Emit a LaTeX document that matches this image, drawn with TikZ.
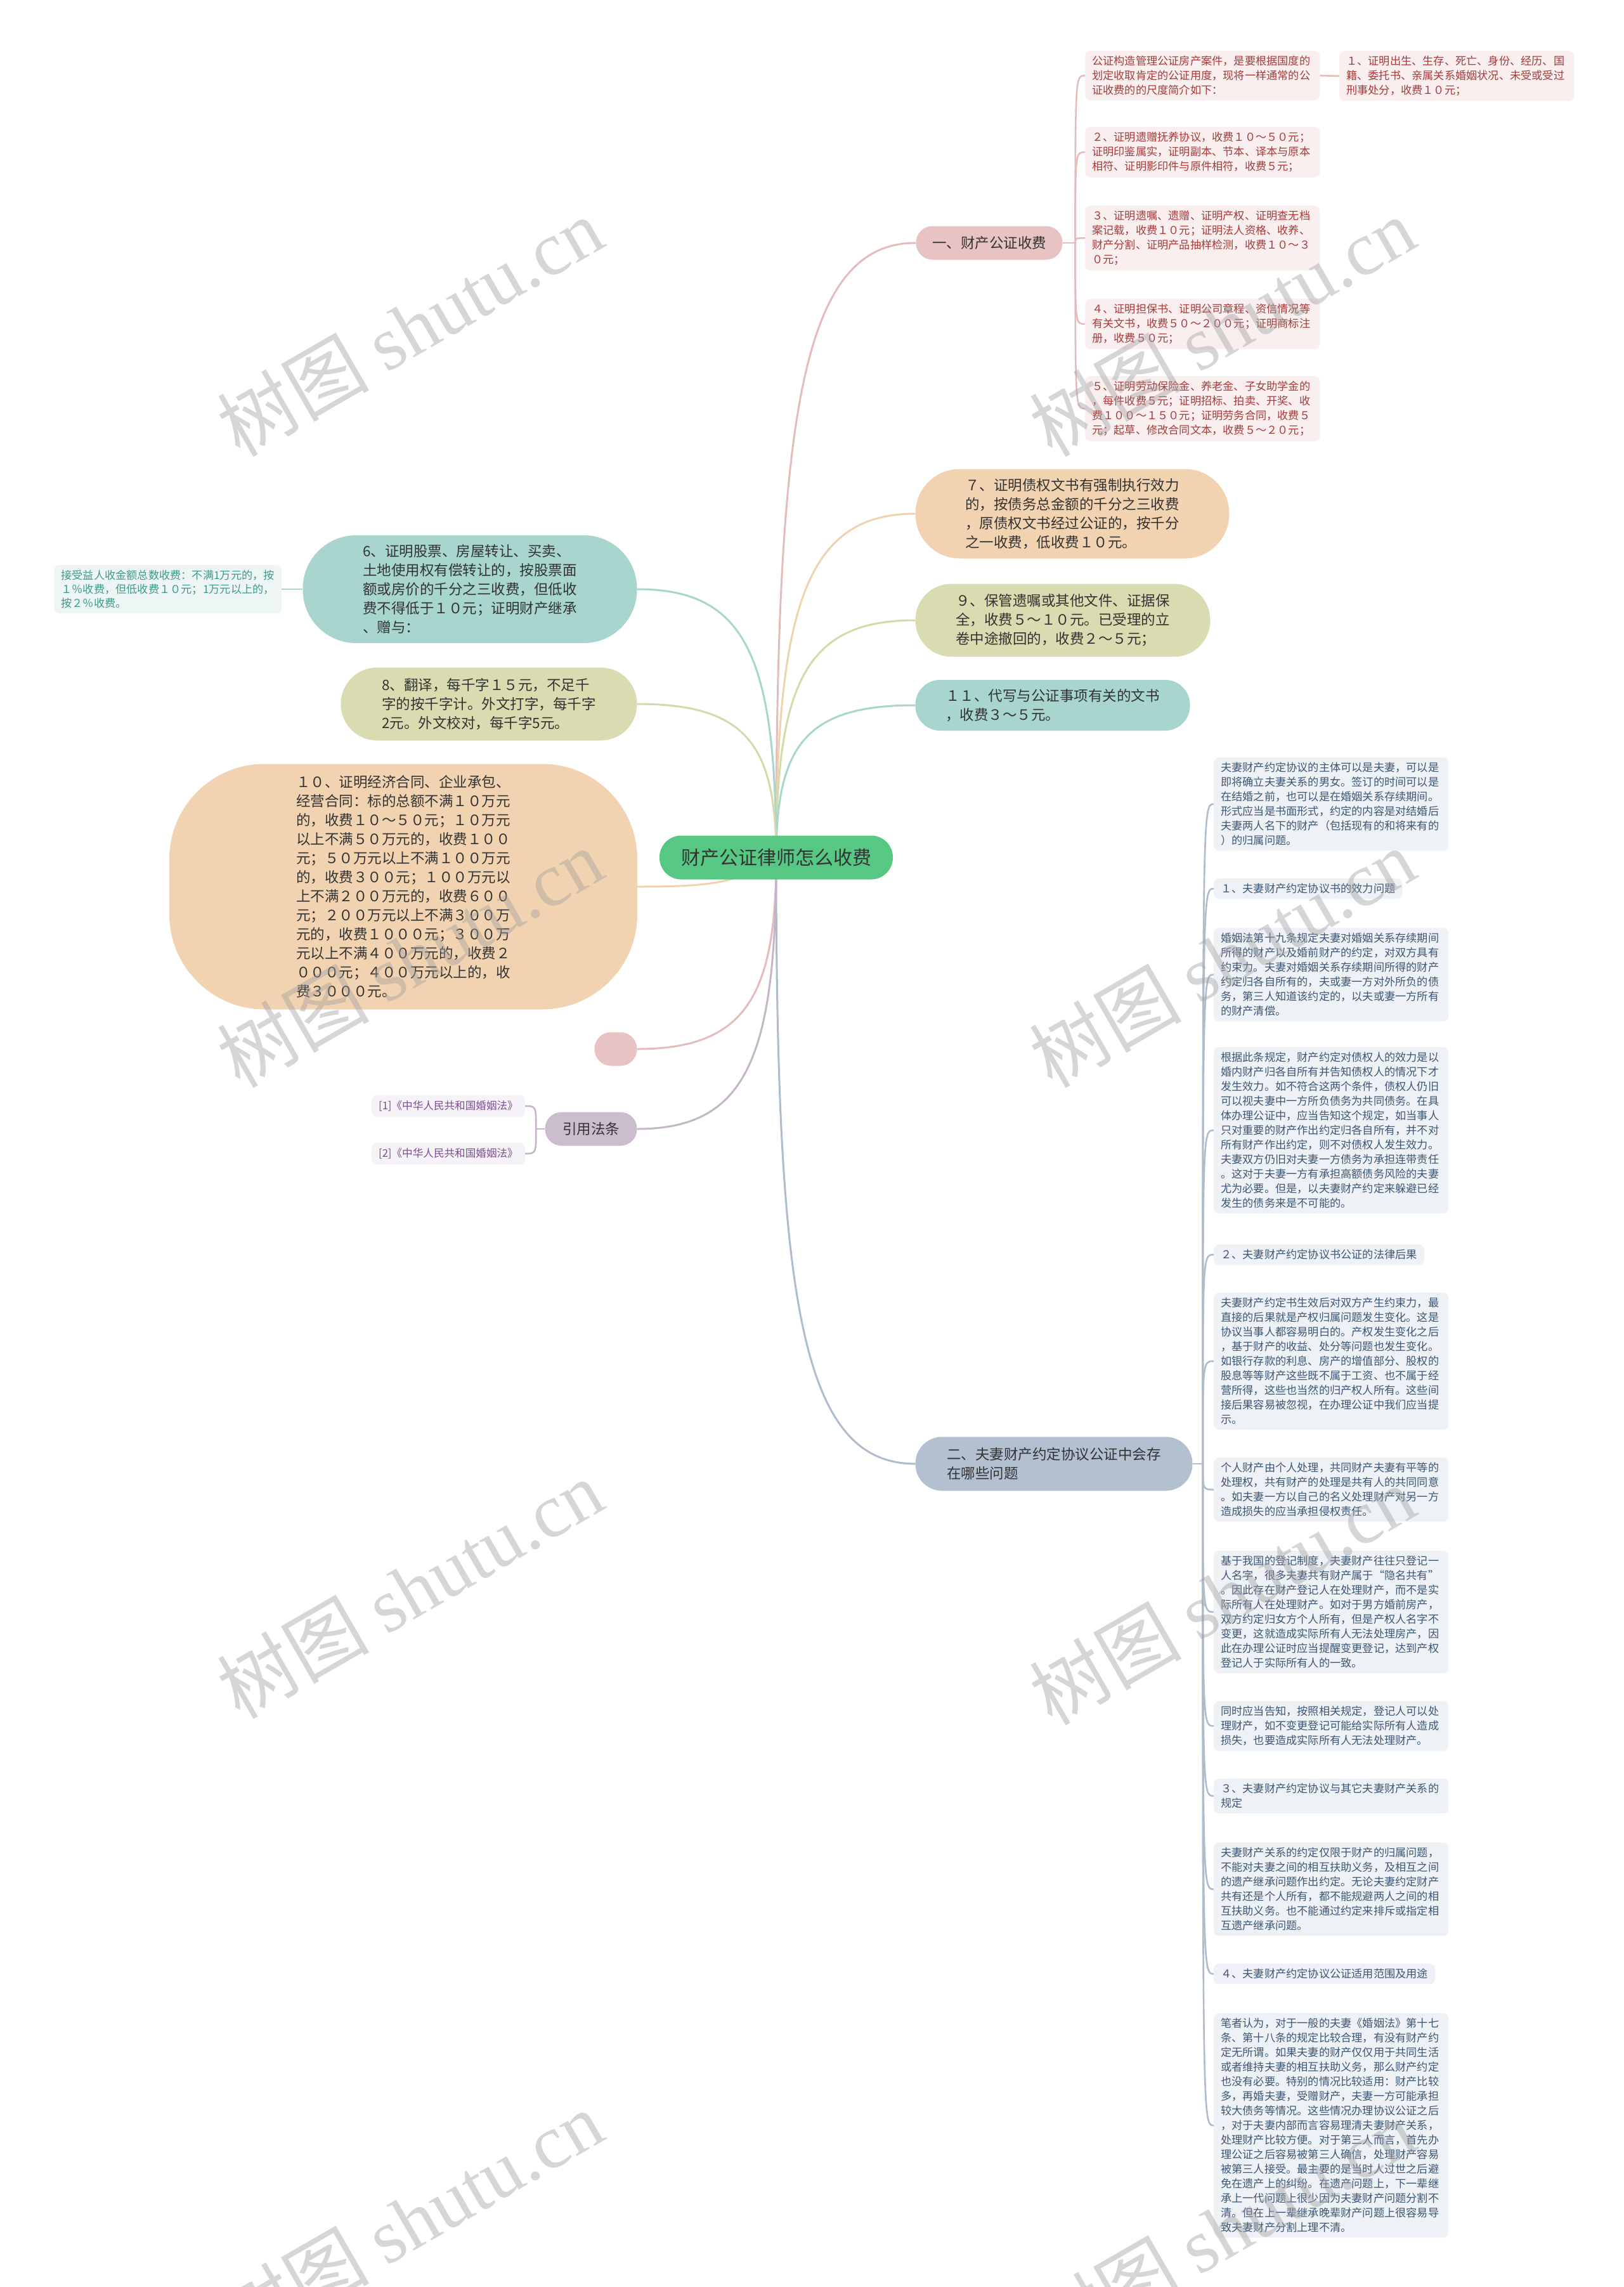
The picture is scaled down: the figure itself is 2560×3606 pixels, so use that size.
\documentclass[tikz,border=0pt]{standalone}
\usepackage{fontspec}
\setmainfont{Noto Sans CJK SC}
\newfontfamily\wmlatin{Liberation Serif}
\usetikzlibrary{backgrounds}
\definecolor{maintext}{HTML}{333333}
\definecolor{greenN}{HTML}{56C884}
\definecolor{pinkN}{HTML}{E8C3C3}
\definecolor{peachN}{HTML}{F2D3B1}
\definecolor{oliveN}{HTML}{D9DCB0}
\definecolor{tealN}{HTML}{A8D5CD}
\definecolor{blueN}{HTML}{B2C0D0}
\definecolor{lavN}{HTML}{CBBDCD}
\definecolor{pinkL}{HTML}{E3BCBC}
\definecolor{peachL}{HTML}{F0D3AE}
\definecolor{oliveL}{HTML}{D6D9A9}
\definecolor{tealL}{HTML}{A8D5CD}
\definecolor{blueL}{HTML}{AEBCCC}
\definecolor{lavL}{HTML}{C4B6C7}
\definecolor{pinkBG}{HTML}{F9EFEF}
\definecolor{pinkTX}{HTML}{A83A3A}
\definecolor{blueBG}{HTML}{EEF2F6}
\definecolor{blueTX}{HTML}{3E5674}
\definecolor{tealBG}{HTML}{EDF6F4}
\definecolor{tealTX}{HTML}{3D9B86}
\definecolor{refBG}{HTML}{F5F3F7}
\definecolor{refTX}{HTML}{7B4D8D}
\tikzset{
  mnode/.style={fill=#1, text=maintext, align=left, inner sep=0pt,
    font=\fontsize{22.5pt}{30pt}\selectfont},
  leafbox/.style 2 args={fill=#1, text=#2, align=left, inner xsep=11pt, inner ysep=8pt,
    rounded corners=8pt, font=\fontsize{17.2pt}{23pt}\selectfont},
  wideleaf/.style 2 args={leafbox={#1}{#2}, text width=348pt},
  brline/.style={draw=#1, line width=3pt},
  lfline/.style={draw=#1, line width=2.6pt},
  wmark/.style={text=gray!75, opacity=0.42, rotate=30, inner sep=0pt,
    font=\fontsize{120pt}{120pt}\selectfont}
}
\begin{document}
\begin{tikzpicture}[x=1pt,y=-1pt]
\useasboundingbox (0,0) rectangle (2560,3606);

% ---------------- centre ----------------
\node[mnode=greenN, rounded corners=34pt, minimum width=368pt, minimum height=69pt,
  font=\fontsize{30pt}{36pt}\selectfont, align=center] (c) at (1224,1352) {财产公证律师怎么收费};

% ---------------- right main branches ----------------
\node[mnode=pinkN, rounded corners=26pt, minimum width=231pt, minimum height=53pt] (b1) at (1560,383) {一、财产公证收费};
\node[mnode=peachN, rounded corners=70pt, minimum width=495pt, minimum height=141pt] (b7) at (1691,810)
  {７、证明债权文书有强制执行效力\\的，按债务总金额的千分之三收费\\，原债权文书经过公证的，按千分\\之一收费，低收费１０元。};
\node[mnode=oliveN, rounded corners=57pt, minimum width=465pt, minimum height=115pt] (b9) at (1676,978)
  {９、保管遗嘱或其他文件、证据保\\全，收费５～１０元。已受理的立\\卷中途撤回的，收费２～５元；};
\node[mnode=tealN, rounded corners=39pt, minimum width=433pt, minimum height=80pt] (b11) at (1660,1112)
  {１１、代写与公证事项有关的文书\\，收费３～５元。};
\node[mnode=blueN, rounded corners=42pt, minimum width=437pt, minimum height=85pt] (b2) at (1662,2308)
  {二、夫妻财产约定协议公证中会存\\在哪些问题};

% ---------------- left main branches ----------------
\node[mnode=tealN, rounded corners=84pt, minimum width=527pt, minimum height=170pt] (b6) at (741,929)
  {6、证明股票、房屋转让、买卖、\\土地使用权有偿转让的，按股票面\\额或房价的千分之三收费，但低收\\费不得低于１０元；证明财产继承\\、赠与：};
\node[mnode=oliveN, rounded corners=57pt, minimum width=467pt, minimum height=115pt] (b8) at (771,1110)
  {8、翻译，每千字１５元，不足千\\字的按千字计。外文打字，每千字\\2元。外文校对，每千字5元。};
\node[mnode=peachN, rounded corners=150pt, minimum width=738pt, minimum height=387pt] (b10) at (636,1398)
  {１０、证明经济合同、企业承包、\\经营合同：标的总额不满１０万元\\的，收费１０～５０元；１０万元\\以上不满５０万元的，收费１００\\元；５０万元以上不满１００万元\\的，收费３００元；１００万元以\\上不满２００万元的，收费６００\\元；２００万元以上不满３００万\\元的，收费１０００元；３００万\\元以上不满４００万元的，收费２\\０００元；４００万元以上的，收\\费３０００元。};
\node[mnode=pinkN, rounded corners=26pt, minimum width=67pt, minimum height=53pt] (be) at (971,1654) {};
\node[mnode=lavN, rounded corners=26pt, minimum width=145pt, minimum height=53pt] (bref) at (932,1780) {引用法条};

% ---------------- left leaves ----------------
\node[leafbox={tealBG}{tealTX}, anchor=east, font=\fontsize{17.2pt}{22pt}\selectfont] (l6) at (444,929)
  {接受益人收金额总数收费：不满1万元的，按\\１％收费，但低收费１０元；1万元以上的，\\按２％收费。};
\node[leafbox={refBG}{refTX}, anchor=east, inner ysep=9pt, font=\fontsize{16.6pt}{21pt}\selectfont] (ref1) at (828,1744) {[1]《中华人民共和国婚姻法》};
\node[leafbox={refBG}{refTX}, anchor=east, inner ysep=9pt, font=\fontsize{16.6pt}{21pt}\selectfont] (ref2) at (828,1819) {[2]《中华人民共和国婚姻法》};

% ---------------- pink leaves ----------------
\node[wideleaf={pinkBG}{pinkTX}, anchor=north west] (p0) at (1711,80)
  {公证构造管理公证房产案件，是要根据国度的\\划定收取肯定的公证用度，现将一样通常的公\\证收费的的尺度简介如下：};
\node[wideleaf={pinkBG}{pinkTX}, anchor=north west] (p1) at (2112,80)
  {１、证明出生、生存、死亡、身份、经历、国\\籍、委托书、亲属关系婚姻状况、未受或受过\\刑事处分，收费１０元；};
\node[wideleaf={pinkBG}{pinkTX}, anchor=north west] (p2) at (1711,200)
  {２、证明遗赠抚养协议，收费１０～５０元；\\证明印鉴属实，证明副本、节本、译本与原本\\相符、证明影印件与原件相符，收费５元；};
\node[wideleaf={pinkBG}{pinkTX}, anchor=north west] (p3) at (1711,324)
  {３、证明遗嘱、遗赠、证明产权、证明查无档\\案记载，收费１０元；证明法人资格、收养、\\财产分割、证明产品抽样检测，收费１０～３\\０元；};
\node[wideleaf={pinkBG}{pinkTX}, anchor=north west] (p4) at (1711,471)
  {４、证明担保书、证明公司章程、资信情况等\\有关文书，收费５０～２００元；证明商标注\\册，收费５０元；};
\node[wideleaf={pinkBG}{pinkTX}, anchor=north west] (p5) at (1711,593)
  {５、证明劳动保险金、养老金、子女助学金的\\，每件收费５元；证明招标、拍卖、开奖、收\\费１００～１５０元；证明劳务合同，收费５\\元；起草、修改合同文本，收费５～２０元；};

% ---------------- blue leaves ----------------
\node[wideleaf={blueBG}{blueTX}, anchor=north west] (r1) at (1914,1194)
  {夫妻财产约定协议的主体可以是夫妻，可以是\\即将确立夫妻关系的男女。签订的时间可以是\\在结婚之前，也可以是在婚姻关系存续期间。\\形式应当是书面形式，约定的内容是对结婚后\\夫妻两人名下的财产（包括现有的和将来有的\\）的归属问题。};
\node[leafbox={blueBG}{blueTX}, anchor=north west] (r2) at (1914,1385)
  {１、夫妻财产约定协议书的效力问题};
\node[wideleaf={blueBG}{blueTX}, anchor=north west] (r3) at (1914,1463)
  {婚姻法第十九条规定夫妻对婚姻关系存续期间\\所得的财产以及婚前财产的约定，对双方具有\\约束力。夫妻对婚姻关系存续期间所得的财产\\约定归各自所有的，夫或妻一方对外所负的债\\务，第三人知道该约定的，以夫或妻一方所有\\的财产清偿。};
\node[wideleaf={blueBG}{blueTX}, anchor=north west] (r4) at (1914,1651)
  {根据此条规定，财产约定对债权人的效力是以\\婚内财产归各自所有并告知债权人的情况下才\\发生效力。如不符合这两个条件，债权人仍旧\\可以视夫妻中一方所负债务为共同债务。在具\\体办理公证中，应当告知这个规定，如当事人\\只对重要的财产作出约定归各自所有，并不对\\所有财产作出约定，则不对债权人发生效力。\\夫妻双方仍旧对夫妻一方债务为承担连带责任\\。这对于夫妻一方有承担高额债务风险的夫妻\\尤为必要。但是，以夫妻财产约定来躲避已经\\发生的债务来是不可能的。};
\node[leafbox={blueBG}{blueTX}, anchor=north west] (r5) at (1914,1962)
  {２、夫妻财产约定协议书公证的法律后果};
\node[wideleaf={blueBG}{blueTX}, anchor=north west] (r6) at (1914,2038)
  {夫妻财产约定书生效后对双方产生约束力，最\\直接的后果就是产权归属问题发生变化。这是\\协议当事人都容易明白的。产权发生变化之后\\，基于财产的收益、处分等问题也发生变化。\\如银行存款的利息、房产的增值部分、股权的\\股息等等财产这些既不属于工资、也不属于经\\营所得，这些也当然的归产权人所有。这些间\\接后果容易被忽视，在办理公证中我们应当提\\示。};
\node[wideleaf={blueBG}{blueTX}, anchor=north west] (r7) at (1914,2298)
  {个人财产由个人处理，共同财产夫妻有平等的\\处理权，共有财产的处理是共有人的共同同意\\。如夫妻一方以自己的名义处理财产对另一方\\造成损失的应当承担侵权责任。};
\node[wideleaf={blueBG}{blueTX}, anchor=north west] (r8) at (1914,2445)
  {基于我国的登记制度，夫妻财产往往只登记一\\人名字，很多夫妻共有财产属于“隐名共有”\\。因此存在财产登记人在处理财产，而不是实\\际所有人在处理财产。如对于男方婚前房产，\\双方约定归女方个人所有，但是产权人名字不\\变更，这就造成实际所有人无法处理房产，因\\此在办理公证时应当提醒变更登记，达到产权\\登记人于实际所有人的一致。};
\node[wideleaf={blueBG}{blueTX}, anchor=north west] (r9) at (1914,2682)
  {同时应当告知，按照相关规定，登记人可以处\\理财产，如不变更登记可能给实际所有人造成\\损失，也要造成实际所有人无法处理财产。};
\node[wideleaf={blueBG}{blueTX}, anchor=north west] (r10) at (1914,2804)
  {３、夫妻财产约定协议与其它夫妻财产关系的\\规定};
\node[wideleaf={blueBG}{blueTX}, anchor=north west] (r11) at (1914,2905)
  {夫妻财产关系的约定仅限于财产的归属问题，\\不能对夫妻之间的相互扶助义务，及相互之间\\的遗产继承问题作出约定。无论夫妻约定财产\\共有还是个人所有，都不能规避两人之间的相\\互扶助义务。也不能通过约定来排斥或指定相\\互遗产继承问题。};
\node[leafbox={blueBG}{blueTX}, anchor=north west] (r12) at (1914,3096)
  {４、夫妻财产约定协议公证适用范围及用途};
\node[wideleaf={blueBG}{blueTX}, anchor=north west] (r13) at (1914,3174)
  {笔者认为，对于一般的夫妻《婚姻法》第十七\\条、第十八条的规定比较合理，有没有财产约\\定无所谓。如果夫妻的财产仅仅用于共同生活\\或者维持夫妻的相互扶助义务，那么财产约定\\也没有必要。特别的情况比较适用：财产比较\\多，再婚夫妻，受赠财产，夫妻一方可能承担\\较大债务等情况。这些情况办理协议公证之后\\，对于夫妻内部而言容易理清夫妻财产关系，\\处理财产比较方便。对于第三人而言，首先办\\理公证之后容易被第三人确信，处理财产容易\\被第三人接受。最主要的是当时人过世之后避\\免在遗产上的纠纷。在遗产问题上，下一辈继\\承上一代问题上很少因为夫妻财产问题分割不\\清。但在上一辈继承晚辈财产问题上很容易导\\致夫妻财产分割上理不清。};

% ---------------- connectors ----------------
\begin{scope}[on background layer]
\fill[white] (0,0) rectangle (2560,3606);
\draw[brline=pinkL] (c.center) .. controls +(0,-700) and +(-180,0) .. (b1.west);
\draw[brline=peachL] (c.center) .. controls +(0,-400) and +(-170,0) .. (b7.west);
\draw[brline=oliveL] (c.center) .. controls +(0,-280) and +(-170,0) .. (b9.west);
\draw[brline=tealL] (c.center) .. controls +(0,-180) and +(-170,0) .. (b11.west);
\draw[brline=blueL] (c.center) .. controls +(0,700) and +(-180,0) .. (b2.west);
\draw[brline=tealL] (c.center) .. controls +(0,-320) and +(170,0) .. (b6.east);
\draw[brline=oliveL] (c.center) .. controls +(0,-180) and +(170,0) .. (b8.east);
\draw[brline=peachL] (c.center) .. controls +(-60,40) and +(120,0) .. (b10.east);
\draw[brline=pinkL] (c.center) .. controls +(0,220) and +(170,0) .. (be.east);
\draw[brline=lavL] (c.center) .. controls +(0,320) and +(170,0) .. (bref.east);

\draw[lfline=pinkL] (b1.east) -- ++(20,0) coordinate (t1);
\foreach \n in {p0,p2,p3,p4,p5}
  \draw[lfline=pinkL] (t1) .. controls (t1 |- \n.west) .. (\n.west);
\draw[lfline=pinkL] (p0.east) -- (p1.west);

\draw[lfline=blueL] (b2.east) -- ++(16,0) coordinate (t2);
\foreach \n in {r1,r2,r3,r4,r5,r6,r7,r8,r9,r10,r11,r12,r13}
  \draw[lfline=blueL] (t2) .. controls (t2 |- \n.west) .. (\n.west);

\draw[lfline=tealL] (b6.west) -- (l6.east);

\draw[lfline=lavL] (bref.west) -- ++(-14,0) coordinate (t3);
\foreach \n in {ref1,ref2}
  \draw[lfline=lavL] (t3) .. controls (t3 |- \n.east) .. (\n.east);
\end{scope}

% ---------------- watermarks ----------------
\foreach \wx/\wy [count=\i] in {646/515,1927/515,646/1510,1927/1510,646/2505,1927/2515,646/3500,1927/3515}
  \node[wmark] (wm\i) at (\wx,\wy) {树图 {\wmlatin shutu.cn}};
\end{tikzpicture}
\end{document}
